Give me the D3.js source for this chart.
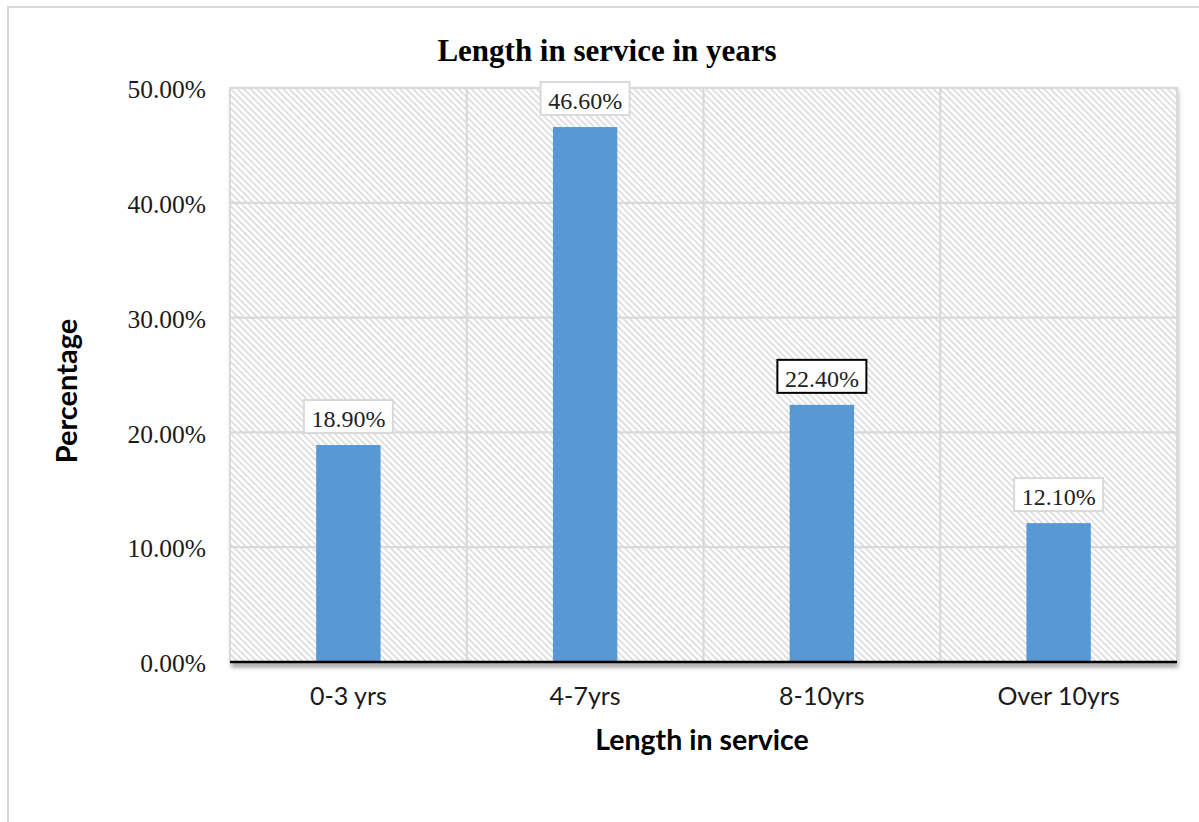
<!DOCTYPE html>
<html>
<head>
<meta charset="utf-8">
<script src="https://cdn.jsdelivr.net/npm/d3@7"></script>
<style>
  html, body { margin: 0; padding: 0; background: #ffffff; }
  svg { display: block; }
</style>
</head>
<body>
<svg id="chart" width="1199" height="822"></svg>
<script>
// ---- data ----
const categories = ["0-3 yrs", "4-7yrs", "8-10yrs", "Over 10yrs"];
const values = [18.9, 46.6, 22.4, 12.1];
const yTicks = [0, 10, 20, 30, 40, 50];
const highlighted = ["8-10yrs"];
const chartTitle = "Length in service in years";
const xTitle = "Length in service";
const yTitle = "Percentage";

// ---- layout ----
const W = 1199, H = 822;
const plot = { left: 230, right: 1177, top: 88, bottom: 662 };

const svg = d3.select("#chart");
const defs = svg.append("defs");

// hatch pattern
const pat = defs.append("pattern")
  .attr("id", "hatch")
  .attr("patternUnits", "userSpaceOnUse")
  .attr("width", 4.6).attr("height", 4.6)
  .attr("patternTransform", "rotate(45)");
pat.append("rect").attr("width", 4.6).attr("height", 4.6).attr("fill", "#ffffff");
pat.append("rect").attr("y", 0).attr("width", 4.6).attr("height", 1.7).attr("fill", "#dcdcdc");

// shadow filters
const f1 = defs.append("filter").attr("id", "plotShadow")
  .attr("x", "-5%").attr("y", "-5%").attr("width", "110%").attr("height", "115%");
f1.append("feDropShadow").attr("dx", 1.5).attr("dy", 2).attr("stdDeviation", 2.5)
  .attr("flood-color", "#000").attr("flood-opacity", 0.25);

const f2 = defs.append("filter").attr("id", "axisShadow")
  .attr("filterUnits", "userSpaceOnUse")
  .attr("x", plot.left - 10).attr("y", plot.bottom - 10)
  .attr("width", plot.right - plot.left + 20).attr("height", 30);
f2.append("feDropShadow").attr("dx", 1).attr("dy", 3.5).attr("stdDeviation", 2.2)
  .attr("flood-color", "#000").attr("flood-opacity", 0.55);

// outer frame (only top/left visible)
svg.append("rect")
  .attr("x", 8).attr("y", 7).attr("width", 1400).attr("height", 1200)
  .attr("fill", "none").attr("stroke", "#d9d9d9").attr("stroke-width", 2);

// scales
const x = d3.scaleBand().domain(categories).range([plot.left, plot.right]).paddingInner(0).paddingOuter(0);
const y = d3.scaleLinear().domain([0, 50]).range([plot.bottom, plot.top]);
const barW = x.bandwidth() * 0.272;

// plot background with shadow
svg.append("rect")
  .attr("x", plot.left).attr("y", plot.top)
  .attr("width", plot.right - plot.left).attr("height", plot.bottom - plot.top)
  .attr("fill", "#ffffff")
  .attr("filter", "url(#plotShadow)");
svg.append("rect")
  .attr("x", plot.left).attr("y", plot.top)
  .attr("width", plot.right - plot.left).attr("height", plot.bottom - plot.top)
  .attr("fill", "url(#hatch)")
  .attr("stroke", "#d9d9d9").attr("stroke-width", 2);

// horizontal gridlines
svg.append("g").selectAll("line").data(yTicks.filter(d => d > 0)).join("line")
  .attr("x1", plot.left).attr("x2", plot.right)
  .attr("y1", d => y(d)).attr("y2", d => y(d))
  .attr("stroke", "#d9d9d9").attr("stroke-width", 2.2);

// vertical gridlines at category boundaries
svg.append("g").selectAll("line").data(categories.slice(1)).join("line")
  .attr("x1", d => x(d)).attr("x2", d => x(d))
  .attr("y1", plot.top).attr("y2", plot.bottom)
  .attr("stroke", "#d9d9d9").attr("stroke-width", 2.2);

// bars
svg.append("g").selectAll("rect").data(categories).join("rect")
  .attr("x", d => x(d) + x.bandwidth() / 2 - barW / 2)
  .attr("y", (d, i) => y(values[i]))
  .attr("width", barW)
  .attr("height", (d, i) => y(0) - y(values[i]))
  .attr("fill", "#5899d5");

// x axis line with shadow
svg.append("line")
  .attr("x1", plot.left).attr("x2", plot.right)
  .attr("y1", y(0)).attr("y2", y(0))
  .attr("stroke", "#000").attr("stroke-width", 2.6)
  .attr("filter", "url(#axisShadow)");

// y tick labels
const yAxis = d3.axisLeft(y).tickValues(yTicks).tickSize(0).tickPadding(0)
  .tickFormat(d => d3.format(".2f")(d) + "%");
const yg = svg.append("g").attr("transform", `translate(206,0)`).call(yAxis);
yg.select(".domain").remove();
yg.selectAll("text")
  .attr("font-family", "'Liberation Serif', 'Times New Roman', serif")
  .attr("font-size", 25.5).attr("fill", "#1a1a1a")
  .attr("dy", "0.38em").attr("x", 0);

// x tick labels
const xAxis = d3.axisBottom(x).tickSize(0).tickPadding(0);
const xg = svg.append("g").attr("transform", `translate(0,${plot.bottom})`).call(xAxis);
xg.select(".domain").remove();
xg.selectAll("text")
  .attr("font-family", "Lato, 'Open Sans', sans-serif")
  .attr("font-size", 25).attr("fill", "#1a1a1a")
  .attr("y", 43).attr("dy", 0);

// data labels with boxes
const lab = svg.append("g").selectAll("g").data(categories).join("g")
  .attr("transform", (d, i) => `translate(${x(d) + x.bandwidth() / 2},${y(values[i]) - 12})`);
lab.append("rect")
  .attr("x", -44.5).attr("y", -33).attr("width", 89).attr("height", 33)
  .attr("fill", "#ffffff")
  .attr("stroke", d => highlighted.includes(d) ? "#000000" : "#d9d9d9")
  .attr("stroke-width", 2);
lab.append("text")
  .attr("text-anchor", "middle").attr("y", -6)
  .attr("font-family", "'Liberation Serif', 'Times New Roman', serif")
  .attr("font-size", 24).attr("fill", "#222")
  .text((d, i) => d3.format(".2f")(values[i]) + "%");

// title
svg.append("text")
  .attr("x", 607).attr("y", 61).attr("text-anchor", "middle")
  .attr("font-family", "'Liberation Serif', 'Times New Roman', serif")
  .attr("font-weight", "bold").attr("font-size", 31).attr("fill", "#000")
  .text(chartTitle);

// x axis title
svg.append("text")
  .attr("x", 702).attr("y", 750).attr("text-anchor", "middle")
  .attr("font-family", "Lato, 'Open Sans', sans-serif")
  .attr("font-weight", "bold").attr("font-size", 28.5).attr("fill", "#000")
  .text(xTitle);

// y axis title
svg.append("text")
  .attr("transform", "translate(77,391) rotate(-90)")
  .attr("text-anchor", "middle")
  .attr("font-family", "Lato, 'Open Sans', sans-serif")
  .attr("font-weight", "bold").attr("font-size", 29).attr("fill", "#000")
  .text(yTitle);
</script>
</body>
</html>
